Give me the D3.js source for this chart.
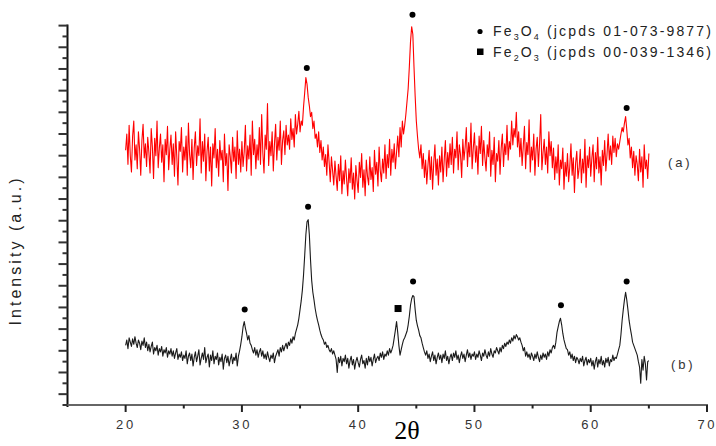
<!DOCTYPE html>
<html>
<head>
<meta charset="utf-8">
<script src="https://cdn.jsdelivr.net/npm/d3@7"></script>
<style>
  html, body { margin: 0; padding: 0; background: #fff; }
  svg { display: block; }
</style>
</head>
<body>
<svg id="chart" width="716" height="446"></svg>
<script>
// ---------------- DATA ----------------
const twoThetaStart = 20.0;
const twoThetaStep = 0.1;

// (a) red pattern, 20.0 .. 65.0 deg (one row per degree)
const seriesA = [
  235,250,222,258,230,215,248,262,226,240,
  218,252,236,212,244,259,228,241,220,247,
  233,214,255,238,209,246,230,262,219,237,
  250,224,240,206,245,231,257,217,236,249,
  222,241,211,252,229,203,243,234,256,215,
  238,226,248,212,260,231,219,245,208,237,
  252,221,239,230,264,214,243,225,250,207,
  234,247,216,238,202,241,228,255,219,236,
  211,244,226,235,206,250,221,232,198,240,
  229,214,247,225,238,209,253,222,236,215,
  243,220,234,258,216,239,227,249,212,262,
  231,245,218,240,226,256,222,268,233,214,
  249,236,278,221,243,230,252,216,241,259,
  226,247,235,262,222,244,253,231,258,240,
  249,236,264,245,255,238,268,250,259,271,
  252,262,258,275,288,302,296,284,276,266,
  270,255,262,246,250,238,252,233,244,226,
  238,220,231,212,240,224,206,229,216,203,
  225,211,198,222,207,230,195,216,204,226,
  209,193,218,205,228,199,214,190,221,207,
  196,224,210,232,201,217,193,226,211,203,
  229,208,219,197,235,213,224,202,238,216,
  206,227,214,240,209,231,219,245,212,236,
  224,241,218,233,248,229,256,238,262,250,
  258,268,280,292,312,335,349,342,312,285,
  262,248,236,228,240,218,232,210,226,204,
  221,235,208,229,199,224,240,212,227,203,
  230,215,238,206,226,244,211,233,219,241,
  222,247,214,236,228,252,217,240,231,210,
  245,226,238,256,220,242,229,260,218,237,
  251,224,239,213,248,232,257,221,244,228,
  216,240,229,252,211,235,222,247,206,232,
  225,244,213,237,250,220,241,231,258,226,
  243,236,262,240,255,247,270,238,252,229,
  246,221,239,257,218,242,231,263,215,238,
  226,250,212,236,247,220,241,268,217,233,
  245,222,238,214,252,230,243,219,237,208,
  229,214,240,203,226,218,237,199,224,211,
  232,206,220,241,212,228,196,223,234,209,
  218,236,205,227,214,245,201,230,219,238,
  211,228,240,206,233,218,247,214,229,203,
  235,221,244,216,231,250,226,239,222,248,
  233,246,229,241,236,243,250,256,252,260,
  266,254,240,246,228,238,219,234,212,230,
  222,207,236,215,229,201,240,218,226,209,
  232
];

// (b) black pattern, 20.0 .. 65.0 deg
const seriesB = [
  55,60,52,62,58,54,61,56,63,57,
  53,60,57,51,59,55,62,53,58,50,
  56,49,54,58,47,53,50,55,46,52,
  49,54,45,51,48,53,44,50,47,52,
  45,50,43,48,52,42,47,44,49,41,
  46,43,50,38,45,48,41,47,36,44,
  49,40,45,51,37,43,48,42,53,39,
  44,47,35,46,41,50,38,45,42,48,
  37,44,40,47,33,43,46,39,45,36,
  42,47,38,44,41,48,36,45,50,56,
  63,72,77,71,66,60,64,57,55,51,
  48,53,46,51,44,49,52,45,50,43,
  47,42,49,44,40,46,43,48,39,45,
  48,51,45,53,49,55,50,54,57,52,
  58,55,61,57,63,60,66,70,74,80,
  88,96,106,120,138,157,169,171,157,134,
  115,104,97,89,83,78,74,69,65,62,
  60,56,58,53,55,51,49,52,47,50,
  46,42,30,44,39,45,36,43,40,46,
  38,43,34,41,45,37,42,33,40,44,
  39,35,42,46,38,41,34,43,37,45,
  40,44,36,42,47,39,43,45,41,48,
  44,49,42,47,45,50,46,52,48,51,
  55,62,69,77,67,55,46,51,56,60,
  62,65,68,74,82,92,98,101,100,88,
  78,73,69,64,62,57,53,49,46,50,
  43,47,40,45,49,41,46,38,44,48,
  42,46,39,47,43,50,41,45,38,44,
  47,41,48,44,50,42,46,39,45,49,
  43,47,40,46,51,44,48,42,47,45,
  49,42,47,44,50,46,41,48,45,51,
  46,43,49,45,52,47,44,50,48,53,
  50,47,53,49,55,52,57,54,58,56,
  60,57,62,59,64,61,65,63,60,62,
  58,55,50,53,45,49,44,47,42,48,
  45,41,47,43,49,44,40,46,42,48,
  44,47,42,49,45,51,48,53,55,52,
  58,67,72,77,80,74,66,60,56,52,
  51,46,49,43,47,41,45,39,44,42,
  38,43,40,45,36,41,44,37,42,39,
  43,36,41,33,40,44,35,42,38,45,
  37,41,35,43,39,44,36,42,40,46,
  41,44,43,47,51,55,65,78,88,97,
  104,97,88,78,71,65,58,55,52,49,
  46,40,35,20,42,32,45,38,23,40,
  41
];

// peak markers: [2theta, intensity]
const fe3o4MarksA = [[35.58, 311], [44.67, 360], [63.09, 274]];
const fe3o4MarksB = [[30.24, 88], [35.69, 183], [44.72, 114], [57.44, 92], [63.09, 114]];
const fe2o3MarksB = [[43.43, 89]];

const xTicksMajor = [20, 30, 40, 50, 60, 70];
const xTicksMinor = [25, 35, 45, 55, 65];

const legendItems = [
  { shape: "circle", base: ["Fe", "3", "O", "4"], ref: " (jcpds 01-073-9877)" },
  { shape: "square", base: ["Fe", "2", "O", "3"], ref: " (jcpds 00-039-1346)" }
];

const xLabel = "2θ";
const yLabel = "Intensity (a.u.)";
const seriesLabels = ["(a)", "(b)"];

// ---------------- CHART ----------------
const svg = d3.select("#chart");
const x = d3.scaleLinear().domain([15, 70]).range([67.5, 707]);
const y = d3.scaleLinear().domain([0, 350]).range([405, 25.6]);

const toPts = arr => arr.map((v, i) => [twoThetaStart + i * twoThetaStep, v]);
const line = d3.line().x(d => x(d[0])).y(d => y(d[1]));

// series
svg.append("path").datum(toPts(seriesA))
  .attr("d", line).attr("fill", "none").attr("stroke", "#ff0000")
  .attr("stroke-width", 1.1).attr("stroke-linejoin", "round");
svg.append("path").datum(toPts(seriesB))
  .attr("d", line).attr("fill", "none").attr("stroke", "#1a1a1a")
  .attr("stroke-width", 1.1).attr("stroke-linejoin", "round");

// markers
const allDots = fe3o4MarksA.concat(fe3o4MarksB);
svg.selectAll("circle.mk").data(allDots).enter().append("circle")
  .attr("class", "mk").attr("cx", d => x(d[0])).attr("cy", d => y(d[1]))
  .attr("r", 3).attr("fill", "#000");
svg.selectAll("rect.mk").data(fe2o3MarksB).enter().append("rect")
  .attr("class", "mk").attr("x", d => x(d[0]) - 3.5).attr("y", d => y(d[1]) - 3.5)
  .attr("width", 7).attr("height", 7).attr("fill", "#000");

// y axis
const yAxisG = svg.append("g").attr("transform", `translate(${x(15)},0)`);
yAxisG.append("line").attr("x1", 0).attr("x2", 0).attr("y1", y(350) - 1).attr("y2", 407)
  .attr("stroke", "#111").attr("stroke-width", 2);
yAxisG.selectAll("line.yt").data(d3.range(0, 351, 10)).enter().append("line")
  .attr("class", "yt")
  .attr("x1", d => (d / 10) % 2 === 1 ? -9 : -5).attr("x2", 0)
  .attr("y1", d => y(d)).attr("y2", d => y(d))
  .attr("stroke", "#333").attr("stroke-width", 2);

// x axis
const xAxisG = svg.append("g").attr("transform", `translate(0,${y(0)})`);
xAxisG.append("line").attr("x1", x(15)).attr("x2", x(70) + 1).attr("y1", 0).attr("y2", 0)
  .attr("stroke", "#666").attr("stroke-width", 2);
xAxisG.selectAll("line.xM").data(xTicksMajor).enter().append("line")
  .attr("class", "xM").attr("x1", d => x(d)).attr("x2", d => x(d))
  .attr("y1", 0).attr("y2", 7).attr("stroke", "#222").attr("stroke-width", 2);
xAxisG.selectAll("line.xm").data(xTicksMinor).enter().append("line")
  .attr("class", "xm").attr("x1", d => x(d)).attr("x2", d => x(d))
  .attr("y1", 0).attr("y2", 3.5).attr("stroke", "#222").attr("stroke-width", 2);
const tickLS = 2.6;
xAxisG.selectAll("text.xl").data(xTicksMajor).enter().append("text")
  .attr("class", "xl").attr("x", d => x(d) + tickLS / 2 - 1).attr("y", 24)
  .attr("text-anchor", "middle")
  .attr("font-family", "Liberation Sans, Arial, sans-serif").attr("font-size", 13)
  .attr("letter-spacing", tickLS).attr("fill", "#333").text(d => d);

// axis titles
svg.append("text").attr("x", 407).attr("y", 439).attr("text-anchor", "middle")
  .attr("font-family", "Liberation Serif, Times New Roman, serif").attr("font-size", 26)
  .attr("fill", "#000").text(xLabel);

const yl = svg.append("text")
  .attr("transform", "translate(21,252) rotate(-90)")
  .attr("text-anchor", "middle")
  .attr("font-family", "Liberation Sans, Arial, sans-serif").attr("font-size", 16)
  .attr("fill", "#222").text(yLabel);
{
  const nat = yl.node().getComputedTextLength();
  const ls = Math.max(0, (150 - nat) / yLabel.length);
  yl.attr("letter-spacing", ls).attr("dx", ls / 2);
}

// series labels
svg.append("text").attr("x", 668).attr("y", 167)
  .attr("font-family", "Liberation Sans, Arial, sans-serif").attr("font-size", 13)
  .attr("letter-spacing", 2.8).attr("fill", "#333").text(seriesLabels[0]);
svg.append("text").attr("x", 671).attr("y", 369)
  .attr("font-family", "Liberation Sans, Arial, sans-serif").attr("font-size", 13)
  .attr("letter-spacing", 2.8).attr("fill", "#333").text(seriesLabels[1]);

// legend
const legendY = [36, 57];
legendItems.forEach((it, i) => {
  const by = legendY[i];
  if (it.shape === "circle") {
    svg.append("circle").attr("cx", 480).attr("cy", by - 4.5).attr("r", 2.6).attr("fill", "#000");
  } else {
    svg.append("rect").attr("x", 477).attr("y", by - 8.5).attr("width", 6.5).attr("height", 6.5).attr("fill", "#000");
  }
  const t = svg.append("text").attr("x", 493).attr("y", by)
    .attr("font-family", "Liberation Sans, Arial, sans-serif").attr("font-size", 14)
    .attr("fill", "#222");
  t.append("tspan").text(it.base[0]);
  t.append("tspan").attr("dy", 4).attr("font-size", 9).text(it.base[1]);
  t.append("tspan").attr("dy", -4).text(it.base[2]);
  t.append("tspan").attr("dy", 4).attr("font-size", 9).text(it.base[3]);
  t.append("tspan").attr("dy", -4).text(it.ref);
  const nat = t.node().getComputedTextLength();
  const nChars = it.base.join("").length + it.ref.length;
  const ls = (220 - nat) / nChars;
  t.attr("letter-spacing", ls);
});
</script>
</body>
</html>
